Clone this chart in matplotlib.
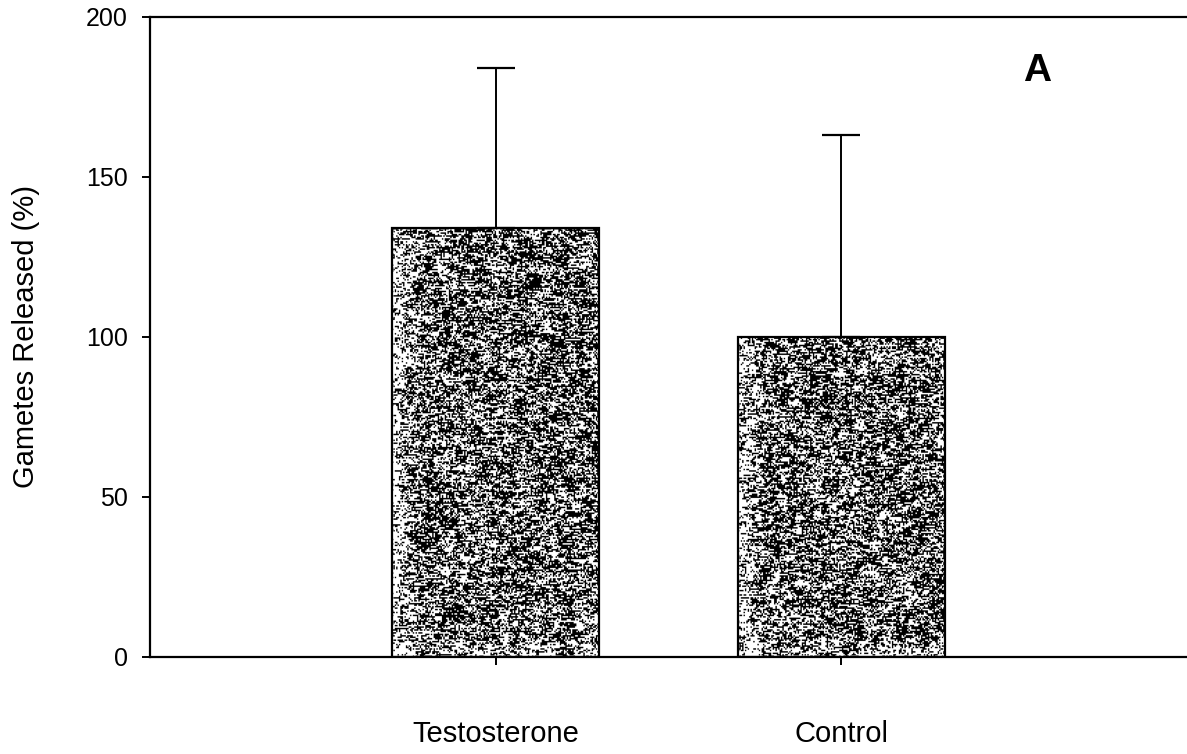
import numpy as np
import matplotlib
matplotlib.use("Agg")
import matplotlib.pyplot as plt

plt.rcParams["font.family"] = ["Liberation Sans", "DejaVu Sans"]

groups = ["Testosterone", "Control"]
released = [134, 100]
sem = [50, 63]
ytick_vals = [0, 50, 100, 150, 200]

fig = plt.figure(figsize=(11.87, 7.54), dpi=100)
ax = fig.add_axes([150 / 1187, 1 - 657 / 754, 1 - 150 / 1187, (657 - 17) / 754])

xpos = np.arange(1, len(groups) + 1)
bars = ax.bar(xpos, released, width=0.6, facecolor="none", edgecolor="black",
              linewidth=1.6, zorder=3)
ax.errorbar(xpos, released, yerr=[np.zeros(len(sem)), sem], fmt="none",
            ecolor="black", elinewidth=1.4, capsize=14, capthick=1.6, zorder=2)


def stipple(rng, h, w):
    # fine grey speckle with short horizontal streaks
    noise = rng.random((h, w + 3))
    kern = np.ones(4) / 4
    streak = np.array([np.convolve(r, kern, mode="valid") for r in noise])
    speck = rng.random((h, w))
    blob = rng.random((h // 6 + 2, w // 6 + 2))
    blob = np.kron(blob, np.ones((6, 6)))[:h, :w]
    shade = 0.6 * streak + 0.3 * speck + 0.1 * blob
    fade = np.zeros((h, w))
    fade[:, :20] += np.linspace(0.12, 0.0, 20)[None, :]
    fade[-15:, :] += np.linspace(0.0, 0.07, 15)[:, None]
    return (shade + fade > 0.52).astype(float)


rng = np.random.default_rng(11)
for rect in bars:
    x0, y0 = rect.get_x(), rect.get_y()
    h = int(rect.get_height() * 2.2)
    tex = stipple(rng, h, 150)
    img = ax.imshow(tex, cmap="gray", vmin=0, vmax=1, aspect="auto",
                    interpolation="antialiased",
                    extent=[x0, x0 + rect.get_width(), y0, y0 + rect.get_height()],
                    zorder=1)
    img.set_clip_path(rect)

ax.set_xlim(0, 3)
ax.set_ylim(0, 200)
ax.set_yticks(ytick_vals)
ax.set_xticks(xpos)
ax.set_xticklabels(groups, fontsize=21)
ax.tick_params(axis="y", direction="out", length=6, width=1.4, labelsize=18, pad=10)
ax.tick_params(axis="x", direction="out", length=6, width=1.4, pad=39)

ax.spines["right"].set_visible(False)
for side in ["left", "top", "bottom"]:
    ax.spines[side].set_linewidth(1.6)

ax.set_ylabel("Gametes Released (%)", fontsize=21)
ax.yaxis.set_label_coords(-0.106, 0.5)

ax.text(0.855, 0.916, "A", transform=ax.transAxes, fontsize=28,
        fontweight="bold", ha="center", va="center")

fig.savefig("out.png", dpi=100, facecolor="white")
